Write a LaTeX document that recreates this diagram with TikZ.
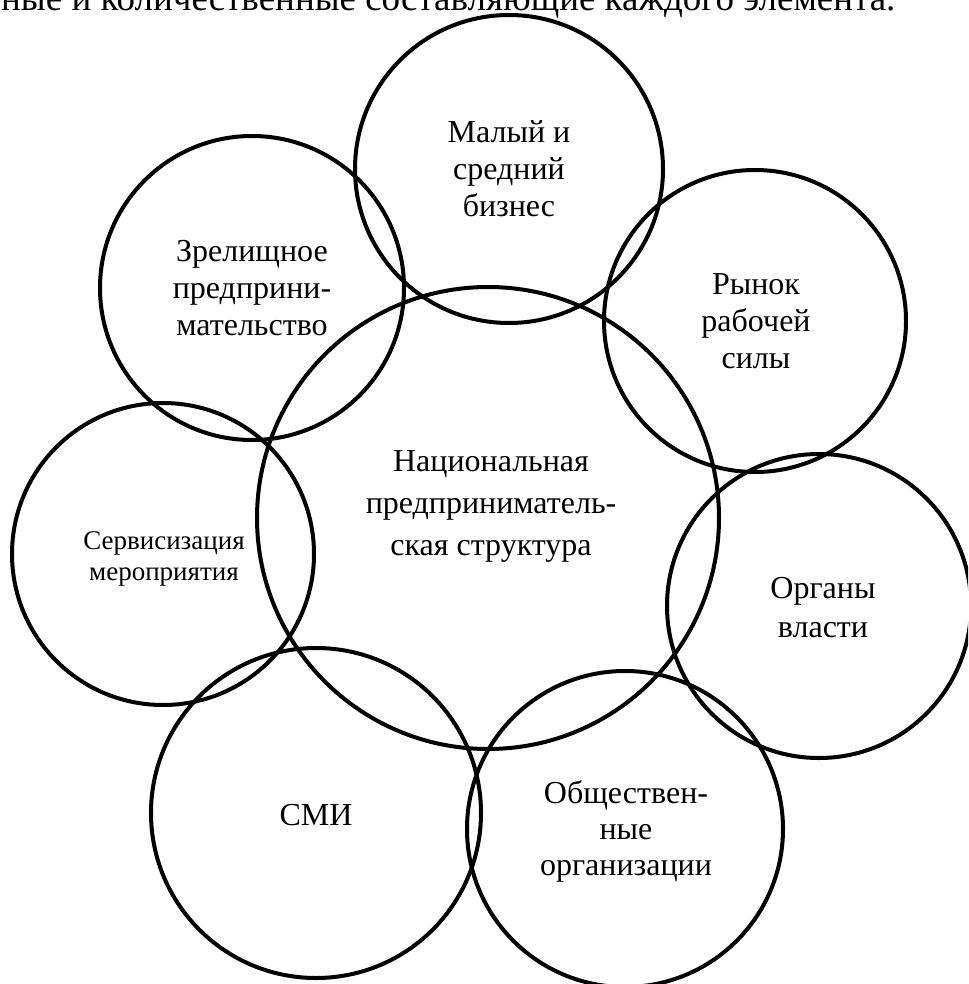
\documentclass[tikz,border=0pt]{standalone}
\usepackage{fontspec}
\setmainfont{Liberation Serif}
\begin{document}
\begin{tikzpicture}[x=1pt,y=-1pt,
  ring/.style={circle,draw,line width=4pt,inner sep=0pt,minimum size=#1},
  lbl/.style={align=center,anchor=base,inner sep=0pt,font=\fontsize{32}{37}\selectfont}]
\useasboundingbox (0,0) rectangle (968,984);
\clip (0,0) rectangle (968,984);
\node[anchor=base west,inner sep=0pt,font=\fontsize{37}{42}\selectfont] (head) at (1,10.5) {ные и количественные составляющие каждого элемента.};
% circles
\node[ring=308pt] (cbiz) at (509,169) {};
\node[ring=304pt] (cshow) at (252,288) {};
\node[ring=302pt] (clab) at (755,321) {};
\node[ring=462pt] (cnat) at (488,518) {};
\node[ring=302pt] (cserv) at (163,554) {};
\node[ring=304pt] (cgov) at (819,606) {};
\node[ring=330pt] (cmedia) at (316,813) {};
\node[ring=316pt] (cpub) at (625,829) {};
% labels (anchored at the baseline of the last line)
\node[lbl] (tbiz) at (509,217) {Малый и\\средний\\бизнес};
\node[lbl] (tshow) at (252,335) {Зрелищное\\предприни-\\мательство};
\node[lbl] (tlab) at (756,368) {Рынок\\рабочей\\силы};
\node[lbl,font=\fontsize{32}{42}\selectfont] (tnat) at (491,555) {Национальная\\предприниматель-\\ская структура};
\node[lbl,font=\fontsize{27}{31}\selectfont] (tserv) at (164,580) {Сервисизация\\мероприятия};
\node[lbl,font=\fontsize{32}{39}\selectfont] (tgov) at (823,637) {Органы\\власти};
\node[lbl] (tmedia) at (316,825) {СМИ};
\node[lbl,font=\fontsize{32}{36}\selectfont] (tpub) at (626,875) {Обществен-\\ные\\организации};
\end{tikzpicture}
\end{document}
